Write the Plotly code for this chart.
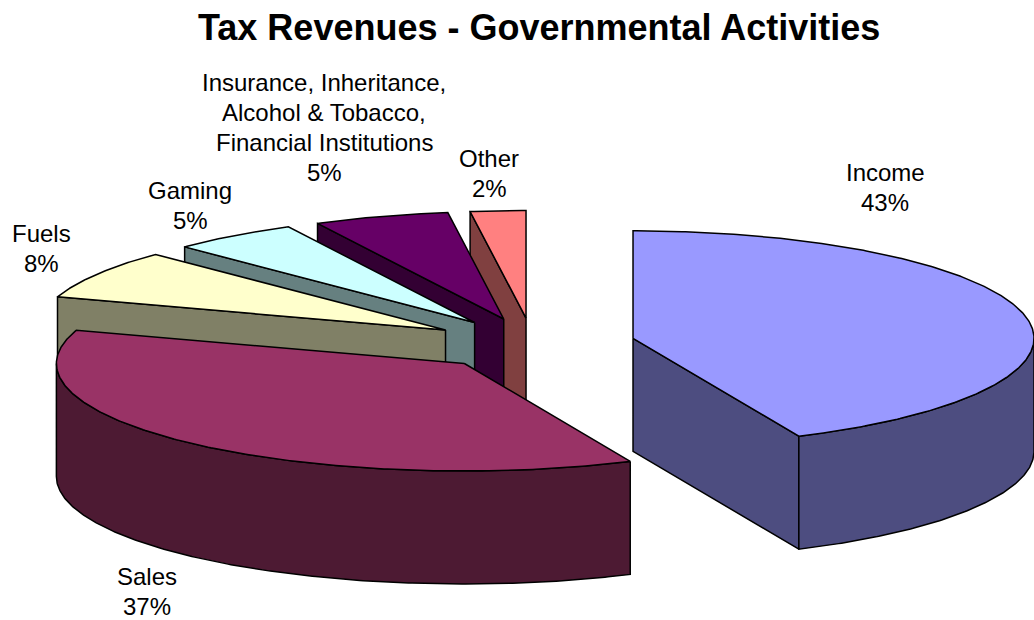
import math
import plotly.graph_objects as go

# Revenue shares, in percent, clockwise from twelve o'clock
categories = ["Income", "Sales", "Fuels", "Gaming",
              "Insurance, Inheritance,<br>Alcohol & Tobacco,<br>Financial Institutions", "Other"]
shares = [43, 37, 8, 5, 5, 2]
top_colors = ["#9999FF", "#993366", "#FFFFCC", "#CCFFFF", "#660066", "#FF8080"]
wall_colors = ["#4D4D80", "#4D1A33", "#808066", "#668080", "#330033", "#804040"]
label_centres = [(885, 187), (147, 591), (41, 248), (190, 205), (324, 127), (489, 173)]

# Projection of the tilted pie onto the page
CX, CY = 532.5, 344
RX_RIGHT, RX_LEFT = 401, 408
RY = 107.5
DEPTH = 113
EXPLODE_X, EXPLODE_Y = 103, 26
LINE_PITCH = 30


def skewed(angle):
    # The camera tilt bends the rim slightly in the two stretches it leans across
    if 288 < angle < 360:
        return angle - 2.2 * math.sin(math.radians(2.5 * (angle - 288)))
    if 90 < angle < 180:
        return angle - 1.0 * math.sin(math.radians(2 * angle))
    return angle


def point(apex, angle):
    a = math.radians(skewed(angle))
    s = math.sin(a)
    return apex[0] + (RX_RIGHT if s >= 0 else RX_LEFT) * s, apex[1] - RY * math.cos(a)


def arc(apex, start, end):
    steps = max(2, int(abs(end - start) * 2))
    return [point(apex, start + (end - start) * i / steps) for i in range(steps + 1)]


def polygon(fig, pts, color):
    xs = [p[0] for p in pts] + [pts[0][0]]
    ys = [p[1] for p in pts] + [pts[0][1]]
    fig.add_trace(go.Scatter(x=xs, y=ys, mode="lines", fill="toself", fillcolor=color,
                             line=dict(color="black", width=1.5), hoverinfo="skip",
                             showlegend=False))


def radial_wall(fig, apex, angle, color):
    rim = point(apex, angle)
    polygon(fig, [apex, rim, (rim[0], rim[1] + DEPTH), (apex[0], apex[1] + DEPTH)], color)


total = sum(shares)
slices = []
angle = 0
for share, top, wall in zip(shares, top_colors, wall_colors):
    sweep = 360 * share / total
    mid = math.radians(angle + sweep / 2)
    apex = (CX + EXPLODE_X * math.sin(mid), CY - EXPLODE_Y * math.cos(mid))
    slices.append((apex, angle, angle + sweep, top, wall))
    angle += sweep

fig = go.Figure()

# Far slices first so nearer ones cover them
for apex, start, end, top, wall in sorted(slices, key=lambda s: s[0][1]):
    # A cut face shows only when it turns towards the viewer
    if 180 < start < 360:
        radial_wall(fig, apex, start, wall)
    if 0 < end < 180:
        radial_wall(fig, apex, end, wall)
    low, high = max(start, 90), min(end, 270)
    if low < high:
        rim = arc(apex, low, high)
        polygon(fig, rim + [(x, y + DEPTH) for x, y in rim[::-1]], wall)
    polygon(fig, [apex] + arc(apex, start, end), top)

for name, share, (x, y) in zip(categories, shares, label_centres):
    lines = name.split("<br>") + [f"{share}%"]
    for i, line in enumerate(lines):
        fig.add_annotation(x=x, y=y + (i - (len(lines) - 1) / 2) * LINE_PITCH, text=line,
                           showarrow=False, xanchor="center", yanchor="middle",
                           font=dict(family="Liberation Sans", size=24, color="black"))

fig.add_annotation(x=538.5, y=27, text="<b>Tax Revenues - Governmental Activities</b>",
                   showarrow=False, xanchor="center", yanchor="middle",
                   font=dict(family="Liberation Sans", size=36, color="black"))

fig.update_layout(width=1034, height=620, margin=dict(l=0, r=0, t=0, b=0),
                  paper_bgcolor="white", plot_bgcolor="white", showlegend=False)
fig.update_xaxes(range=[0, 1034], visible=False)
fig.update_yaxes(range=[620, 0], visible=False)
fig.write_html("out.html")
